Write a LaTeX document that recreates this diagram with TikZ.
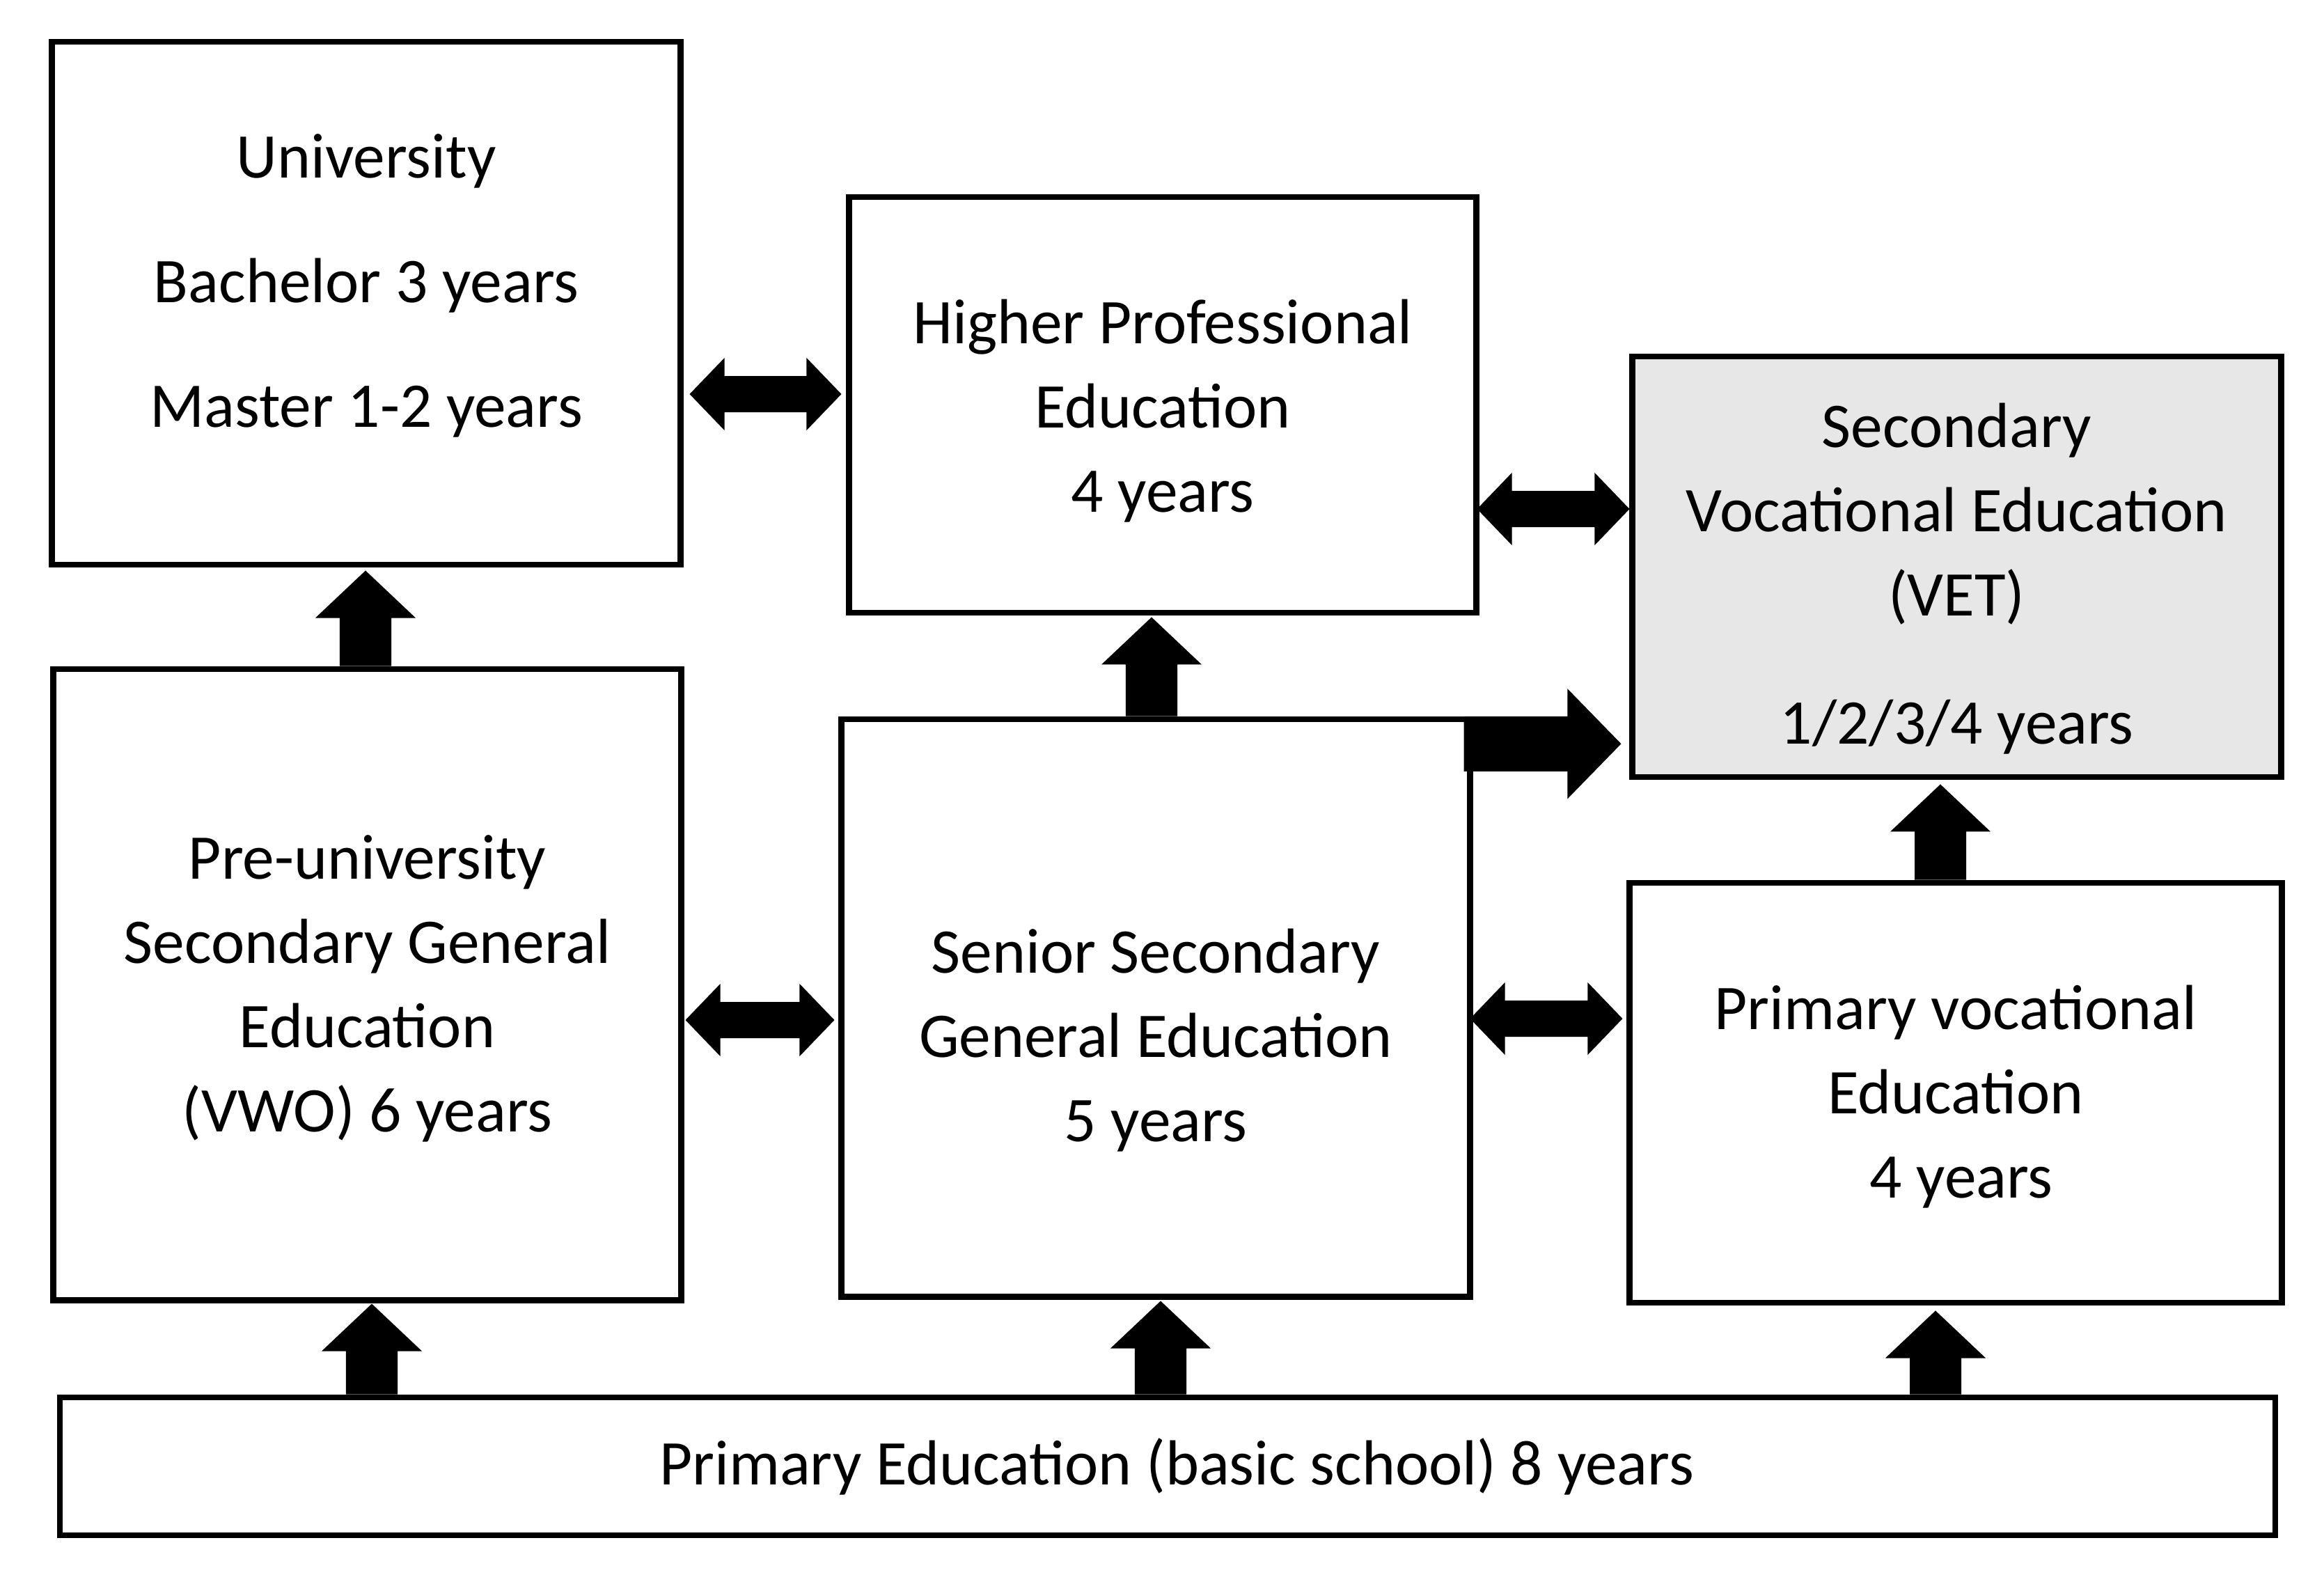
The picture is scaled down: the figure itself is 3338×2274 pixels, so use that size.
\documentclass[tikz,border=0pt]{standalone}
\usepackage{fontspec}
\setmainfont{Carlito}
\usetikzlibrary{calc}
\definecolor{vetgray}{RGB}{231,231,231}
\tikzset{
  box/.style={draw=black, line width=0.085cm, inner sep=0pt},
  boxtext/.style={inner sep=0pt, align=center, font=\fontsize{26pt}{34.4pt}\selectfont},
}
% up block arrow: #1 start (gives y of shaft foot), #2 tip
\newcommand{\uparr}[2]{\fill[black] let \p1=#1, \p2=#2 in
  (\x2-0.37cm,\y1) -- (\x2-0.37cm,\y2-0.68cm) -- (\x2-0.72cm,\y2-0.68cm) -- (\x2,\y2)
  -- (\x2+0.72cm,\y2-0.68cm) -- (\x2+0.37cm,\y2-0.68cm) -- (\x2+0.37cm,\y1) -- cycle;}
% horizontal double block arrow: #1 left tip, #2 right tip (y of #1)
\newcommand{\dblarr}[2]{\fill[black] let \p1=#1, \p2=#2 in
  (\x1,\y1) -- (\x1+0.5cm,\y1+0.52cm) -- (\x1+0.5cm,\y1+0.26cm) -- (\x2-0.5cm,\y1+0.26cm)
  -- (\x2-0.5cm,\y1+0.52cm) -- (\x2,\y1) -- (\x2-0.5cm,\y1-0.52cm) -- (\x2-0.5cm,\y1-0.26cm)
  -- (\x1+0.5cm,\y1-0.26cm) -- (\x1+0.5cm,\y1-0.52cm) -- cycle;}
% right block arrow: #1 start (x of shaft foot), #2 tip
\newcommand{\rarr}[2]{\fill[black] let \p1=#1, \p2=#2 in
  (\x1,\y2+0.395cm) -- (\x2-0.77cm,\y2+0.395cm) -- (\x2-0.77cm,\y2+0.79cm) -- (\x2,\y2)
  -- (\x2-0.77cm,\y2-0.79cm) -- (\x2-0.77cm,\y2-0.395cm) -- (\x1,\y2-0.395cm) -- cycle;}
\begin{document}
\begin{tikzpicture}[x=0.01cm,y=-0.01cm]
\useasboundingbox (0,0) rectangle (3338,2274);

\node[box, minimum width=9.02cm, minimum height=7.51cm] (uni) at (526,435.5) {};
\node[boxtext, font=\fontsize{26pt}{50.9pt}\selectfont] (unitext) at ($(uni.center)+(0,-25)$)
  {University\\Bachelor 3 years\\Master 1-2 years};
\node[box, minimum width=9.00cm, minimum height=5.97cm] (hpe) at (1670,581.5) {};
\node[boxtext] (hpetext) at ($(hpe.center)+(0,9)$)
  {Higher Professional\\Education\\4 years};
\node[box, fill=vetgray, minimum width=9.31cm, minimum height=6.04cm] (vet) at (2810.5,814) {};
\node[boxtext] (vettext) at ($(vet.center)+(0,17)$)
  {Secondary\\Vocational Education\\(VET)\\[0.63cm]1/2/3/4 years};
\node[box, minimum width=9.01cm, minimum height=9.06cm] (pre) at (527.5,1414) {};
\node[boxtext] (pretext) at ($(pre.center)+(0,6)$)
  {Pre-university\\Secondary General\\Education\\(VWO) 6 years};
\node[box, minimum width=9.02cm, minimum height=8.29cm] (ssge) at (1660,1447.5) {};
\node[boxtext] (ssgetext) at ($(ssge.center)+(0,47)$)
  {Senior Secondary\\General Education\\5 years};
\node[box, minimum width=9.36cm, minimum height=6.03cm] (pve) at (2809,1569.5) {};
\node[boxtext] (pvetext) at ($(pve.center)+(0,6)$)
  {Primary vocational\\Education\\\hspace*{0.16cm}4 years};
\node[box, minimum width=31.80cm, minimum height=1.98cm] (pe) at (1677,2106) {};
\node[boxtext] (petext) at ($(pe.center)+(13,0)$)
  {Primary Education (basic school) 8 years};

% vertical arrows
\uparr{(pre.north)}{($(uni.south)+(-1,4)$)}
\uparr{(ssge.north)}{($(hpe.south)+(-16,2)$)}
\uparr{(pve.north)}{($(vet.south)+(-23.5,6)$)}
\uparr{(pe.north)}{($(pre.south)+(6.5,1)$)}
\uparr{(pe.north)}{($(ssge.south)+(7,2)$)}
\uparr{(pe.north)}{($(pve.south)+(-29,7)$)}

% horizontal double arrows
\dblarr{($(uni.east |- hpe.west)+(9,-15.5)$)}{($(hpe.west)+(-7,-15.5)$)}
\dblarr{($(hpe.east |- vet.west)+(-3,-83)$)}{($(vet.west)+(0,-83)$)}
\dblarr{($(pre.east |- ssge.west)+(2,17.5)$)}{($(ssge.west)+(-6,17.5)$)}
\dblarr{($(ssge.east |- pve.west)+(-4,-106.5)$)}{($(pve.west)+(-6,-106.5)$)}

% big right arrow
\rarr{($(ssge.north east)+(-13,0)$)}{($(vet.west |- ssge.north)+(-12,39.75)$)}
\end{tikzpicture}
\end{document}
